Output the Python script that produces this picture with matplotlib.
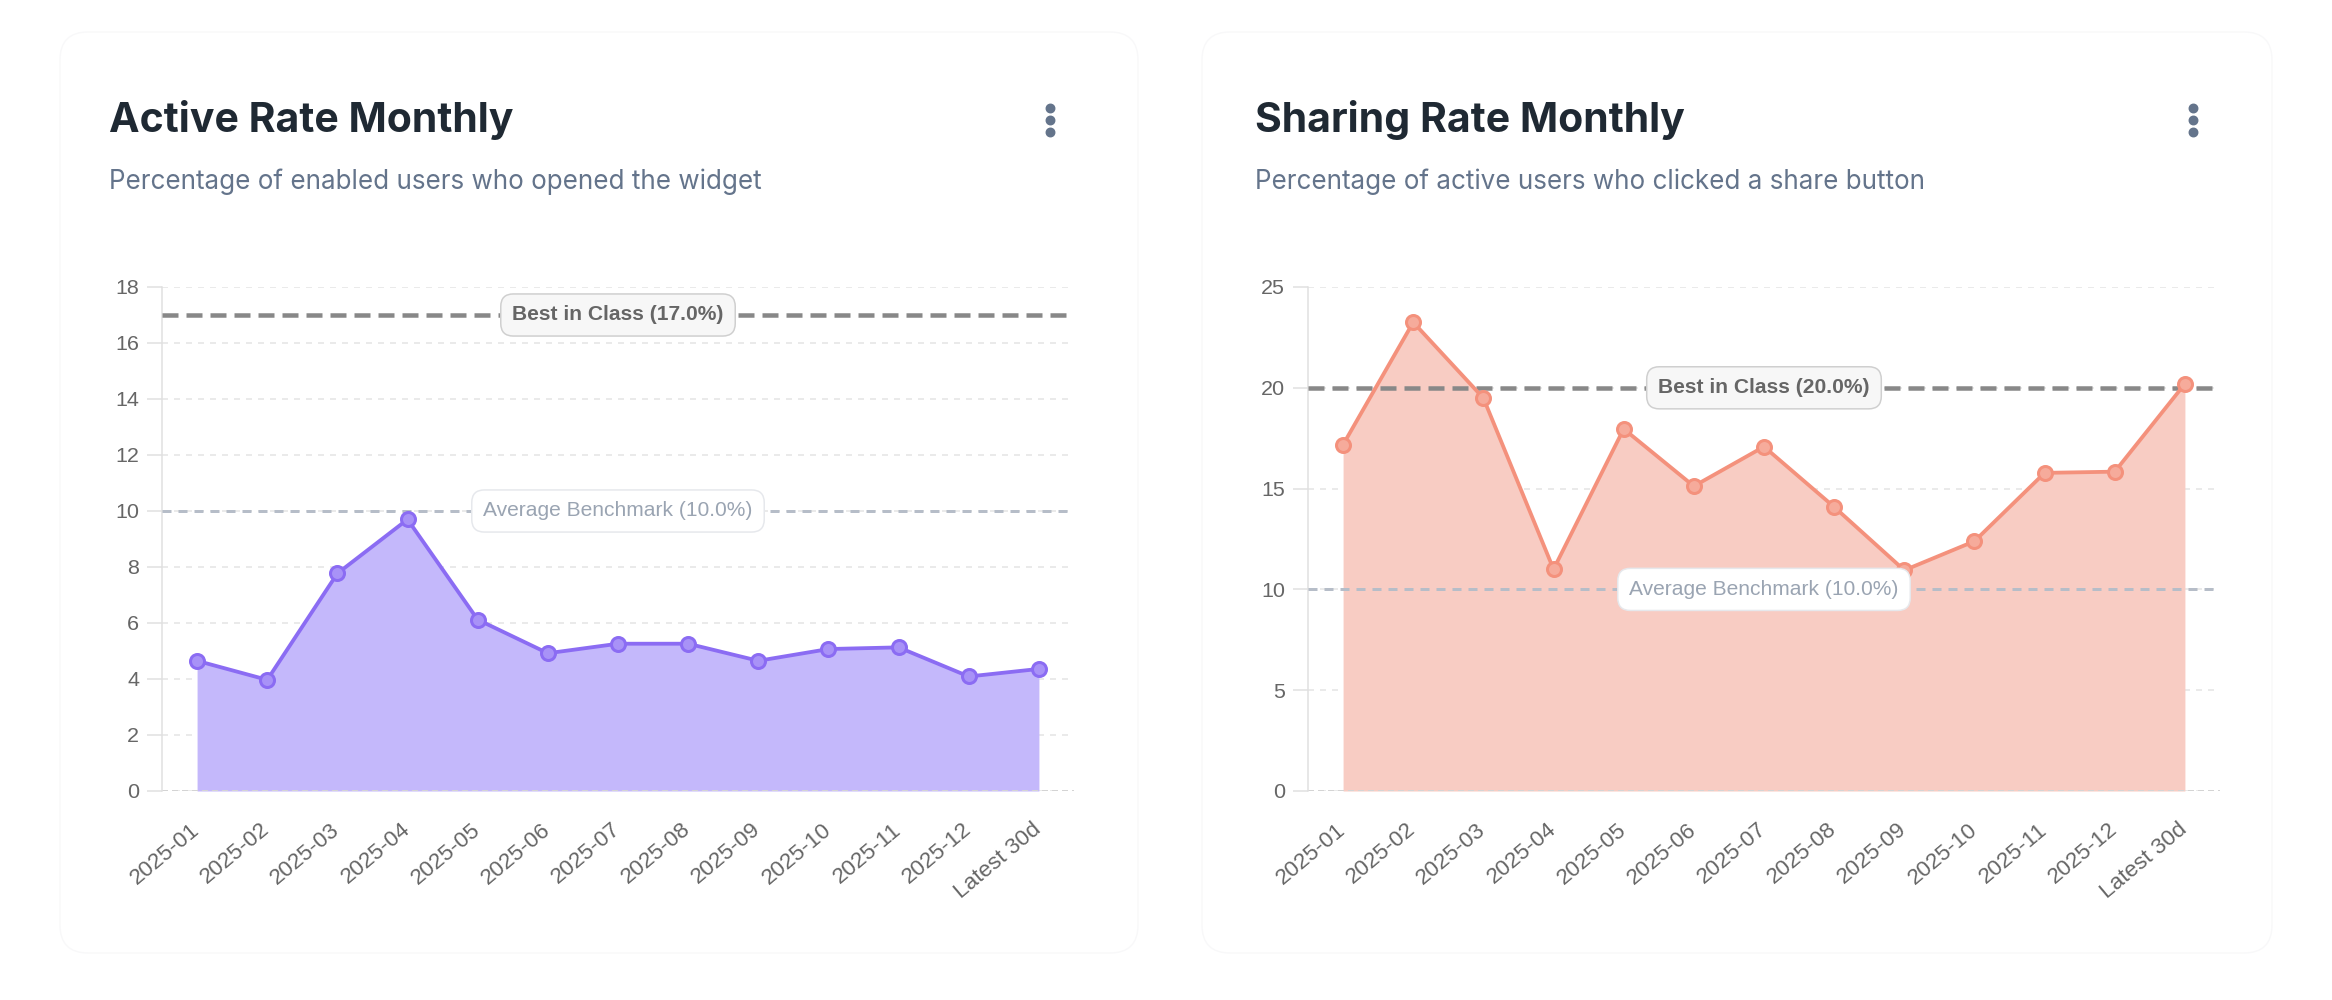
import matplotlib
matplotlib.use("Agg")
import matplotlib.pyplot as plt
from matplotlib.patches import FancyBboxPatch
from matplotlib.lines import Line2D
import numpy as np

plt.rcParams["lines.scale_dashes"] = False
plt.rcParams["font.family"] = ["Liberation Sans", "DejaVu Sans"]

# data
months = ["2025-01", "2025-02", "2025-03", "2025-04", "2025-05", "2025-06",
          "2025-07", "2025-08", "2025-09", "2025-10", "2025-11", "2025-12",
          "Latest 30d"]
active_rate = [4.65, 3.97, 7.77, 9.70, 6.12, 4.92, 5.26, 5.26, 4.65, 5.07,
               5.13, 4.09, 4.36]
sharing_rate = [17.18, 23.25, 19.49, 11.0, 17.96, 15.12, 17.08, 14.09, 10.95,
                12.39, 15.78, 15.84, 20.2]
active_best, active_avg = 17.0, 10.0
sharing_best, sharing_avg = 20.0, 10.0

W, H = 2332, 1000
PT = 0.72  # px -> pt at dpi 100


def card(fig, x0, x1, y0, y1):
    box = FancyBboxPatch((x0 / 100, (H - y1) / 100), (x1 - x0) / 100, (y1 - y0) / 100,
                         boxstyle="round,pad=0,rounding_size=0.28",
                         transform=fig.dpi_scale_trans, fc="white",
                         ec="#f8f8f9", lw=1.0, zorder=0)
    fig.add_artist(box)


def dots(fig, x, y):
    fig.add_artist(Line2D([x / W] * 3, [1 - (y - 12) / H, 1 - y / H, 1 - (y + 12) / H],
                          transform=fig.transFigure, ls="", marker="o",
                          ms=8.5 * PT, mfc="#64748b", mec="#64748b"))


def panel(fig, left, title, subtitle, values, ymax, ystep, best, avg,
          line_color, fill_color, marker_face):
    # header
    tx = left - 53
    fig.text(tx / W, 1 - 132 / H, title, family=["Inter", "DejaVu Sans"],
             weight="bold", fontsize=41 * PT, color="#1f2933", va="baseline")
    fig.text(tx / W, 1 - 189 / H, subtitle, family=["Inter", "DejaVu Sans"],
             fontsize=26 * PT, color="#64748b", va="baseline")

    ax = fig.add_axes([left / W, 209 / H, 912 / W, 504 / H])
    x = np.arange(len(months))

    ax.fill_between(x, values, 0, color=fill_color, lw=0, zorder=1)
    ax.plot(x, values, color=line_color, lw=3.8 * PT, marker="o", ms=14 * PT,
            mfc=marker_face, mec=line_color, mew=3 * PT, zorder=4)

    ax.axhline(best, color="#888888", lw=4.5 * PT, ls=(0, (16 * PT, 8 * PT)), zorder=3)
    ax.axhline(avg, color="#b6bdc8", lw=3 * PT, ls=(0, (9 * PT, 7 * PT)), zorder=3)
    ax.axhline(0, color="#d4d4d4", lw=2 * PT, ls=(0, (6 * PT, 4 * PT)), zorder=2)

    mid = (len(months) - 1) / 2
    ax.text(mid, best, f"Best in Class ({best:.1f}%)", ha="center", va="center",
            fontsize=21 * PT, weight="bold", color="#666666", zorder=6,
            bbox=dict(boxstyle="round,pad=0.55,rounding_size=0.6", fc="#f7f7f7",
                      ec="#cfcfcf", lw=1.5 * PT))
    ax.text(mid, avg, f"Average Benchmark ({avg:.1f}%)", ha="center", va="center",
            fontsize=21 * PT, color="#9aa4b2", zorder=6,
            bbox=dict(boxstyle="round,pad=0.55,rounding_size=0.6", fc="white",
                      ec="#e6e8ec", lw=1.5 * PT))

    ax.set_xlim(-0.5, len(months) - 0.5)
    ax.set_ylim(0, ymax)
    ax.set_yticks(np.arange(0, ymax + 0.1, ystep))
    ax.grid(axis="y", color="#e4e4e4", lw=1.5 * PT, ls=(0, (6 * PT, 6 * PT)), zorder=0)
    ax.set_axisbelow(True)

    ax.set_xticks(x)
    ax.set_xticklabels(months, rotation=40, ha="right", va="center", rotation_mode="anchor")
    ax.tick_params(axis="x", length=0, pad=36 * PT, labelsize=22.5 * PT, labelcolor="#666666")
    ax.tick_params(axis="y", length=15 * PT, width=1.5 * PT, color="#e0e0e0",
                   pad=8 * PT, labelsize=21.5 * PT, labelcolor="#666666")

    for side in ["top", "right", "bottom"]:
        ax.spines[side].set_visible(False)
    ax.spines["left"].set_color("#e0e0e0")
    ax.spines["left"].set_linewidth(1.5 * PT)
    return ax


fig = plt.figure(figsize=(W / 100, H / 100), dpi=100)
fig.patch.set_facecolor("white")

card(fig, 60, 1138, 32, 953)
card(fig, 1202, 2272, 32, 953)
dots(fig, 1050, 120)
dots(fig, 2193, 120)

panel(fig, 162, "Active Rate Monthly",
      "Percentage of enabled users who opened the widget",
      active_rate, 18, 2, active_best, active_avg,
      "#8b6cf3", "#c4b8fb", "#a892f7")
panel(fig, 1308, "Sharing Rate Monthly",
      "Percentage of active users who clicked a share button",
      sharing_rate, 25, 5, sharing_best, sharing_avg,
      "#f4917c", "#f8ccc3", "#f6ab9b")

fig.savefig("out.png", dpi=100, facecolor="white")
